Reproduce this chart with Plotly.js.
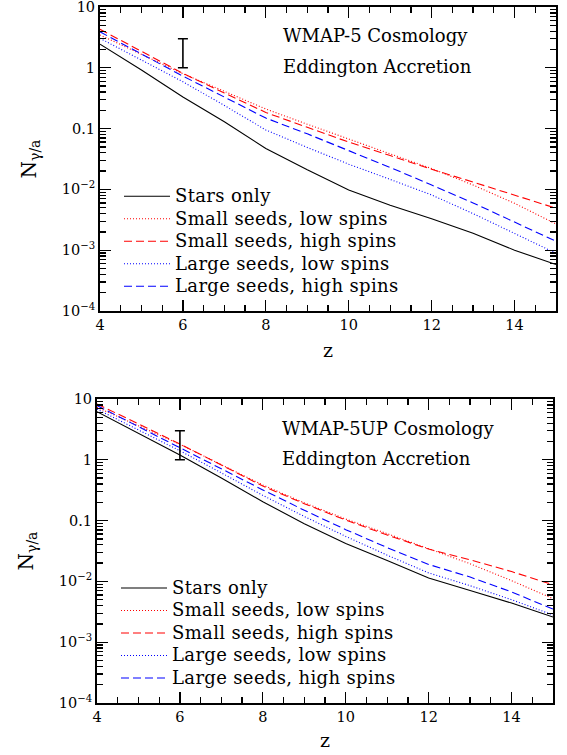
<!DOCTYPE html>
<html>
<head>
<meta charset="utf-8">
<script src="https://cdn.plot.ly/plotly-3.0.1.min.js"></script>
<style>html,body{margin:0;padding:0;background:#fff;}#chart{width:567px;height:755px;}</style>
</head>
<body>
<div id="chart"></div>
<script>
// ---------- data ----------
const z = [4, 5, 6, 7, 8, 9, 10, 11, 12, 13, 14, 15];
const seriesNames = ["Stars only", "Small seeds, low spins", "Small seeds, high spins", "Large seeds, low spins", "Large seeds, high spins"];

// WMAP-5 Cosmology
const top_stars      = [2.45, 0.92, 0.33, 0.13, 0.047, 0.021, 0.0098, 0.0055, 0.0033, 0.0019, 0.0010, 0.00058];
const top_small_low  = [3.47, 1.67, 0.80, 0.41, 0.21, 0.118, 0.067, 0.039, 0.022, 0.0118, 0.0059, 0.0027];
const top_small_high = [4.3, 1.87, 0.81, 0.386, 0.184, 0.105, 0.060, 0.036, 0.0214, 0.0132, 0.0081, 0.0049];
const top_large_low  = [3.05, 1.35, 0.59, 0.24, 0.095, 0.049, 0.026, 0.0146, 0.0081, 0.0040, 0.0019, 0.00089];
const top_large_high = [3.9, 1.7, 0.73, 0.33, 0.149, 0.082, 0.044, 0.023, 0.0118, 0.0060, 0.0029, 0.0014];

// WMAP-5UP Cosmology
const bot_stars      = [6.2, 2.7, 1.2, 0.50, 0.204, 0.089, 0.042, 0.022, 0.0114, 0.0071, 0.0044, 0.0026];
const bot_small_low  = [7.3, 3.6, 1.8, 0.83, 0.385, 0.196, 0.106, 0.061, 0.035, 0.0195, 0.0103, 0.0052];
const bot_small_high = [8.3, 3.9, 1.82, 0.82, 0.37, 0.19, 0.102, 0.058, 0.034, 0.0227, 0.0145, 0.0088];
const bot_large_low  = [6.8, 3.1, 1.41, 0.61, 0.26, 0.117, 0.055, 0.027, 0.0138, 0.0085, 0.0050, 0.0028];
const bot_large_high = [7.8, 3.5, 1.55, 0.70, 0.32, 0.148, 0.071, 0.036, 0.019, 0.0118, 0.0067, 0.0035];

// observational range (error bar)
const err_z = [6];
const err_low = [1];
const err_high = [3];

const yTickVals = [1e-4, 1e-3, 1e-2, 0.1, 1, 10];
const yTickText = ["10<sup>−4</sup>", "10<sup>−3</sup>", "10<sup>−2</sup>", "0.1", "1", "10"];

const topTitles = ["WMAP-5 Cosmology", "Eddington Accretion"];
const botTitles = ["WMAP-5UP Cosmology", "Eddington Accretion"];

// ---------- styles ----------
const FONT = "DejaVu Serif, serif";
const styles = [
  {color: "#000000", dash: "solid"},
  {color: "#ff0000", dash: "1px,2px"},
  {color: "#ff0000", dash: "8px,4px"},
  {color: "#0000ff", dash: "1px,2px"},
  {color: "#0000ff", dash: "8px,4px"}
];

function makeTraces(sets, xa, ya, legendId) {
  return sets.map((ys, i) => ({
    x: z, y: ys, type: "scatter", mode: "lines",
    name: seriesNames[i], xaxis: xa, yaxis: ya, legend: legendId,
    line: {color: styles[i].color, dash: styles[i].dash, width: 1.1}
  }));
}

function errTrace(xa, ya) {
  return {
    x: err_z, y: err_low, type: "scatter", mode: "markers",
    marker: {size: 1, color: "rgba(0,0,0,0)"},
    xaxis: xa, yaxis: ya, showlegend: false, hoverinfo: "skip",
    error_y: {type: "data", symmetric: false,
      array: err_high.map((h, i) => h - err_low[i]),
      arrayminus: err_low.map(() => 0),
      color: "#000", thickness: 1.6, width: 5}
  };
}

const data = [
  ...makeTraces([top_stars, top_small_low, top_small_high, top_large_low, top_large_high], "x", "y", "legend"),
  errTrace("x", "y"),
  ...makeTraces([bot_stars, bot_small_low, bot_small_high, bot_large_low, bot_large_high], "x2", "y2", "legend2"),
  errTrace("x2", "y2")
];

const W = 567, H = 755;
function xAxis(dom, anchor, standoff) {
  return {
    domain: dom, anchor: anchor, range: [4, 15], tick0: 4, dtick: 2,
    ticks: "inside", ticklen: 11, tickwidth: 1.3, tickcolor: "#000",
    minor: {dtick: 0.5, ticks: "inside", ticklen: 6, tickwidth: 1.3, tickcolor: "#000"},
    showline: true, linewidth: 2, linecolor: "#000", mirror: "allticks",
    showgrid: false, zeroline: false, ticklabeloverflow: "allow",
    tickfont: {family: FONT, size: 14.5, color: "#000"},
    title: {text: "z", font: {family: FONT, size: 19, color: "#000"}, standoff: standoff},
    automargin: false
  };
}
function yAxis(dom, anchor) {
  return {
    domain: dom, anchor: anchor, type: "log", range: [-4, 1],
    tickvals: yTickVals, ticktext: yTickText,
    ticks: "inside", ticklen: 11, tickwidth: 1.3, tickcolor: "#000",
    minor: {dtick: "D1", ticks: "inside", ticklen: 6, tickwidth: 1.3, tickcolor: "#000"},
    showline: true, linewidth: 2, linecolor: "#000", mirror: "allticks",
    showgrid: false, zeroline: false, ticklabeloverflow: "allow",
    tickfont: {family: FONT, size: 14.5, color: "#000"},
    title: {text: "N<sub>γ/a</sub>", font: {family: FONT, size: 20, color: "#000"}, standoff: 20},
    automargin: false
  };
}

function legendCfg(xpx, ymidpx) {
  return {
    x: xpx / W, y: 1 - ymidpx / H, xanchor: "left", yanchor: "middle",
    bgcolor: "rgba(0,0,0,0)", borderwidth: 0, itemwidth: 46,
    font: {family: FONT, size: 15, color: "#000"},
    tracegroupgap: 0
  };
}

function ann(text, xpx, ypx) {
  return {text: text, xref: "paper", yref: "paper", x: xpx / W, y: 1 - ypx / H,
    xanchor: "left", yanchor: "middle", showarrow: false,
    font: {family: FONT, size: 18, color: "#000"}};
}

const layout = {
  width: W, height: H,
  margin: {l: 0, r: 0, t: 0, b: 0},
  paper_bgcolor: "#fff", plot_bgcolor: "#fff",
  xaxis: xAxis([100 / W, 556 / W], "y", 11),
  yaxis: yAxis([1 - 311 / H, 1 - 7 / H], "x"),
  xaxis2: xAxis([97 / W, 553 / W], "y2", 9),
  yaxis2: yAxis([1 - 703 / H, 1 - 399 / H], "x2"),
  legend: legendCfg(119, 241.5),
  legend2: legendCfg(116, 633.3),
  annotations: [
    ann(topTitles[0], 281, 36), ann(topTitles[1], 281, 67),
    ann(botTitles[0], 280, 428), ann(botTitles[1], 280, 459)
  ],
  showlegend: true
};

// enlarge legend lettering while keeping the compact row spacing of the reference
function enlargeLegend(gd) {
  gd.querySelectorAll("g.legend [clip-path], g.legend2 [clip-path]").forEach(function (s) { s.removeAttribute("clip-path"); });
  gd.querySelectorAll("g.legend text, g.legend2 text").forEach(function (t) {
    t.style.fontSize = "18px";
    t.style.letterSpacing = "0.35px";
  });
}

const gdiv = document.getElementById("chart");
Plotly.newPlot(gdiv, data, layout, {displayModeBar: false, staticPlot: true}).then(function (gd) {
  enlargeLegend(gd);
  gd.on("plotly_afterplot", function () { enlargeLegend(gd); });
  setTimeout(function () { enlargeLegend(gd); }, 0);
  setTimeout(function () { enlargeLegend(gd); }, 100);
  setTimeout(function () { enlargeLegend(gd); }, 400);
});
</script>
</body>
</html>
